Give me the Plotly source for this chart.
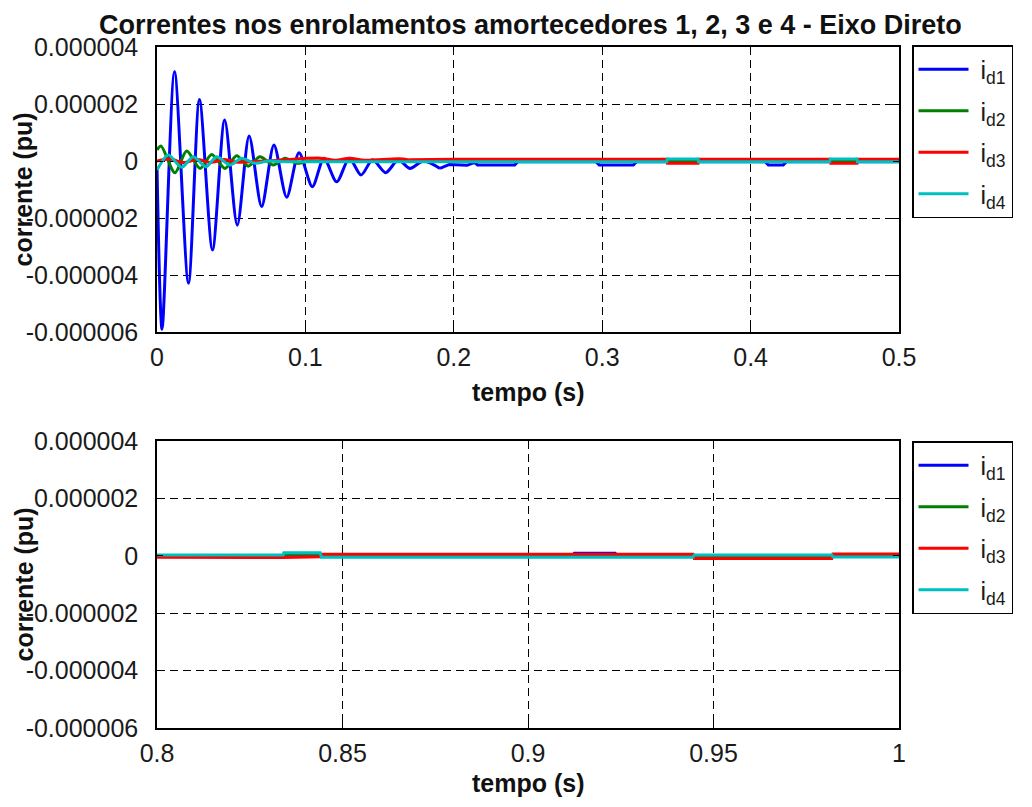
import plotly.graph_objects as go

SCALE = 1e-6  # values below are in units of 1e-6 pu

# i_d1 (blue)
t_d1 = [0.0, 0.0034, 0.0118, 0.0212, 0.0286, 0.0374, 0.0456, 0.0541, 0.0621, 0.0705,
        0.0788, 0.0874, 0.0957, 0.1047, 0.1125, 0.1211, 0.1296, 0.1375, 0.1453, 0.1541,
        0.1626, 0.1705, 0.1795, 0.1907, 0.197, 0.209, 0.214, 0.216, 0.241, 0.243,
        0.296, 0.298, 0.321, 0.323, 0.41, 0.412, 0.422, 0.424, 0.5,
        0.8, 0.912, 0.9125, 0.9235, 0.924, 1.0]
i_d1 = [-0.2, -5.9, 3.14, -4.29, 2.16, -3.12, 1.44, -2.25, 0.88, -1.6,
        0.56, -1.27, 0.29, -0.9, 0.1, -0.73, 0.1, -0.49, 0.04, -0.41,
        0.04, -0.26, 0.0, -0.26, -0.12, -0.15, -0.05, -0.14, -0.14, -0.03,
        -0.03, -0.14, -0.14, -0.03, -0.03, -0.14, -0.14, -0.03, -0.03,
        0.0, 0.0, 0.09, 0.09, 0.0, 0.0]

# i_d2 (green)
t_d2 = [0.0, 0.0027, 0.0121, 0.02, 0.029, 0.0369, 0.0458, 0.0537, 0.0615, 0.0694,
        0.0784, 0.0863, 0.094, 0.102, 0.5, 0.8, 1.0]
i_d2 = [0.39, 0.53, -0.41, 0.35, -0.26, 0.23, -0.26, 0.18, -0.18, 0.15,
        -0.14, 0.1, -0.08, 0.0, 0.0, 0.0, 0.0]

# i_d3 (red)
t_d3 = [0.0, 0.009, 0.018, 0.027, 0.036, 0.045, 0.054, 0.08, 0.11, 0.12,
        0.13, 0.14, 0.163, 0.17, 0.2, 0.3437, 0.344, 0.3646, 0.365, 0.4535,
        0.454, 0.4717, 0.472, 0.5,
        0.8, 0.834, 0.844, 0.8442, 0.9445, 0.9448, 0.9819, 0.9822, 1.0]
i_d3 = [0.0, 0.07, -0.06, 0.06, -0.05, 0.05, -0.04, 0.02, 0.1, 0.03,
        0.1, 0.03, 0.08, 0.04, 0.06, 0.06, -0.08, -0.08, 0.06, 0.06,
        -0.08, -0.08, 0.06, 0.06,
        -0.06, -0.06, -0.03, 0.05, 0.05, -0.09, -0.09, 0.06, 0.06]

# i_d4 (cyan)
t_d4 = [0.0, 0.0076, 0.0166, 0.0245, 0.033, 0.0402, 0.0492, 0.057, 0.066, 0.075,
        0.085, 0.3435, 0.3438, 0.3646, 0.3649, 0.4533, 0.4536, 0.4717, 0.472, 0.5,
        0.8, 0.834, 0.8342, 0.844, 0.8443, 0.9445, 0.9448, 0.9819, 0.9822, 1.0]
i_d4 = [-0.32, 0.21, -0.22, 0.15, -0.2, 0.15, -0.14, 0.1, -0.08, 0.0,
        -0.03, -0.03, 0.07, 0.07, -0.03, -0.03, 0.07, 0.07, -0.03, -0.03,
        0.03, 0.03, 0.11, 0.11, -0.05, -0.05, 0.03, 0.03, -0.04, -0.04]

series_names = ["&nbsp;i<sub>d1</sub>", "&nbsp;i<sub>d2</sub>",
                "&nbsp;i<sub>d3</sub>", "&nbsp;i<sub>d4</sub>"]
series_colors = ["#0000FF", "#008000", "#FF0000", "#00BFBF"]
series_t = [t_d1, t_d2, t_d3, t_d4]
series_v = [i_d1, i_d2, i_d3, i_d4]
# number of leading points forming the damped oscillation (drawn smoothed)
osc_len = [24, 14, 14, 11]

y_tickvals = [-6, -4, -2, 0, 2, 4]
y_ticktext = ["-0.000006", "-0.000004", "-0.000002", "0", "0.000002", "0.000004"]
x1_tickvals = [0, 0.1, 0.2, 0.3, 0.4, 0.5]
x1_ticktext = ["0", "0.1", "0.2", "0.3", "0.4", "0.5"]
x2_tickvals = [0.8, 0.85, 0.9, 0.95, 1.0]
x2_ticktext = ["0.8", "0.85", "0.9", "0.95", "1"]

title_text = "Correntes nos enrolamentos amortecedores 1, 2, 3 e 4 - Eixo Direto"
xlabel = "tempo (s)"
ylabel = "corrente (pu)"

# page body has an 8px margin: figure is laid out in page pixels minus 8
OFF = 8
W, H = 1032 - OFF, 807 - OFF
FONT = "Liberation Sans, Arial, sans-serif"


def fx(px):
    return (px - OFF) / W


def fy(py):
    return 1 - (py - OFF) / H


fig = go.Figure()
for k, (name, col, tt, vv) in enumerate(zip(series_names, series_colors, series_t, series_v)):
    yy = [v * SCALE for v in vv]
    n = osc_len[k]
    # top panel: smoothed oscillation + step part
    fig.add_trace(go.Scatter(x=tt[:n], y=yy[:n], mode="lines", name=name,
                             line=dict(color=col, width=3, shape="spline", smoothing=0.8),
                             legendgroup="a%d" % k, showlegend=True,
                             xaxis="x", yaxis="y", legend="legend"))
    fig.add_trace(go.Scatter(x=tt[n - 1:], y=yy[n - 1:], mode="lines", name=name,
                             line=dict(color=col, width=3),
                             legendgroup="a%d" % k, showlegend=False,
                             xaxis="x", yaxis="y", legend="legend"))
for k, (name, col, tt, vv) in enumerate(zip(series_names, series_colors, series_t, series_v)):
    yy = [v * SCALE for v in vv]
    fig.add_trace(go.Scatter(x=tt, y=yy, mode="lines", name=name,
                             line=dict(color=col, width=3),
                             legendgroup="b%d" % k,
                             xaxis="x2", yaxis="y2", legend="legend2"))

xdom = [fx(157), fx(899)]
ydom1 = [fy(332), fy(47)]
ydom2 = [fy(728), fy(441)]

axis_common = dict(
    showline=True, linecolor="black", linewidth=1.5, mirror="ticks",
    ticks="inside", ticklen=6, tickcolor="black", tickwidth=1.3,
    showgrid=True, gridcolor="black", gridwidth=1.2, griddash="8px,5px",
    zeroline=False, automargin=False,
    tickfont=dict(family=FONT, size=25, color="#1a1a1a"),
)

legend_common = dict(
    xanchor="left", yanchor="top",
    bgcolor="white", bordercolor="black", borderwidth=1.5,
    font=dict(family=FONT, size=25, color="#1a1a1a"),
    itemwidth=50, traceorder="grouped", tracegroupgap=6,
)

fig.update_layout(
    width=W, height=H,
    margin=dict(l=0, r=0, t=0, b=0, pad=0),
    paper_bgcolor="white", plot_bgcolor="white",
    xaxis=dict(domain=xdom, range=[0, 0.5], tickvals=x1_tickvals, ticktext=x1_ticktext,
               anchor="y", ticklabelstandoff=2, **axis_common),
    yaxis=dict(domain=ydom1, range=[-6 * SCALE, 4 * SCALE],
               tickvals=[v * SCALE for v in y_tickvals], ticktext=y_ticktext,
               anchor="x", ticklabelstandoff=12, **axis_common),
    xaxis2=dict(domain=xdom, range=[0.8, 1.0], tickvals=x2_tickvals, ticktext=x2_ticktext,
                anchor="y2", ticklabelstandoff=2, **axis_common),
    yaxis2=dict(domain=ydom2, range=[-6 * SCALE, 4 * SCALE],
                tickvals=[v * SCALE for v in y_tickvals], ticktext=y_ticktext,
                anchor="x2", ticklabelstandoff=12, **axis_common),
    legend=dict(x=fx(912), y=fy(45), **legend_common),
    legend2=dict(x=fx(912), y=fy(441), **legend_common),
    showlegend=True,
)

ann_font_b = dict(family=FONT, size=25, color="#111111")
fig.add_annotation(text="<b>" + title_text + "</b>", x=fx(530), y=fy(8),
                   xref="paper", yref="paper", showarrow=False,
                   xanchor="center", yanchor="top",
                   font=dict(family=FONT, size=27, color="#111111"))
for yc in (392, 783):
    fig.add_annotation(text="<b>" + xlabel + "</b>", x=fx(528), y=fy(yc),
                       xref="paper", yref="paper", showarrow=False,
                       xanchor="center", yanchor="middle", font=ann_font_b)
for yc in (189.5, 584.5):
    fig.add_annotation(text="<b>" + ylabel + "</b>", x=fx(23), y=fy(yc),
                       xref="paper", yref="paper", showarrow=False, textangle=-90,
                       xanchor="center", yanchor="middle", font=ann_font_b)

fig.write_html("out.html")
